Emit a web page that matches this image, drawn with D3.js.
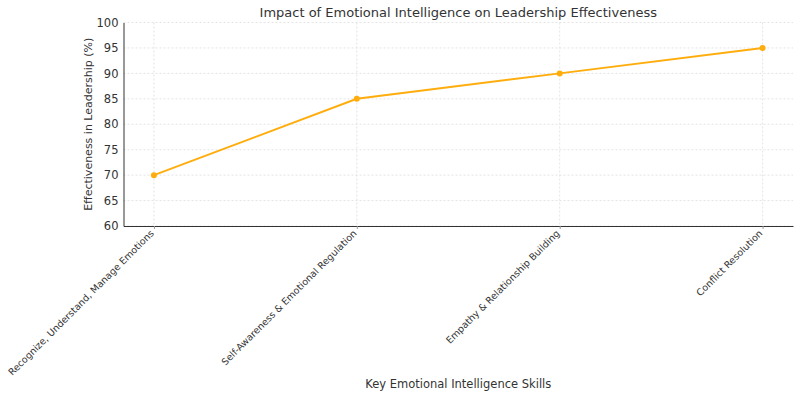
<!DOCTYPE html>
<html>
<head>
<meta charset="utf-8">
<script src="https://cdn.jsdelivr.net/npm/d3@7"></script>
<style>
  body { margin: 0; background: #fff; }
  svg text { font-family: "DejaVu Sans", sans-serif; fill: #333; }
</style>
</head>
<body>
<svg id="chart" width="800" height="398"></svg>
<script>
const skills = [
  'Recognize, Understand, Manage Emotions',
  'Self-Awareness & Emotional Regulation',
  'Empathy & Relationship Building',
  'Conflict Resolution'
];
const effectiveness = [70, 85, 90, 95];
const yTicks = [60, 65, 70, 75, 80, 85, 90, 95, 100];

const width = 800, height = 398;
const margin = { top: 22.5, right: 7, bottom: 172, left: 123.5 };
const svg = d3.select('#chart');

const x = d3.scaleLinear()
  .domain([-0.15, skills.length - 1 + 0.15])
  .range([margin.left, width - margin.right]);
const y = d3.scaleLinear()
  .domain([60, 100])
  .range([height - margin.bottom, margin.top]);

// grid
const grid = svg.append('g');
grid.selectAll('.hg').data(yTicks).enter().append('line')
  .attr('x1', margin.left).attr('x2', width - margin.right)
  .attr('y1', d => y(d)).attr('y2', d => y(d))
  .attr('stroke', '#ddd').attr('stroke-width', 0.8).attr('stroke-dasharray', '2,2');
grid.selectAll('.vg').data(skills).enter().append('line')
  .attr('x1', (d, i) => x(i)).attr('x2', (d, i) => x(i))
  .attr('y1', margin.top).attr('y2', height - margin.bottom)
  .attr('stroke', '#ddd').attr('stroke-width', 0.8).attr('stroke-dasharray', '2,2');

// y axis
const yAxis = svg.append('g')
  .attr('transform', 'translate(' + margin.left + ',0)')
  .call(d3.axisLeft(y).tickValues(yTicks).tickSize(0).tickPadding(5));
yAxis.select('.domain').attr('stroke', '#333').attr('stroke-width', 1);
yAxis.selectAll('text').style('font-size', '11.5px').attr('fill', '#333');

// x axis
const xAxis = svg.append('g')
  .attr('transform', 'translate(0,' + (height - margin.bottom) + ')')
  .call(d3.axisBottom(x).tickValues(d3.range(skills.length)).tickFormat(i => skills[i]).tickSize(3).tickSizeOuter(0));
xAxis.select('.domain').attr('stroke', '#333').attr('stroke-width', 1);
xAxis.selectAll('.tick line').attr('stroke', '#999');
xAxis.selectAll('text')
  .style('font-size', '9.5px')
  .attr('fill', '#333')
  .attr('text-anchor', 'end')
  .attr('dy', null)
  .attr('y', 0)
  .attr('transform', 'translate(0,8) rotate(-45)');

// line + markers
const line = d3.line().x((d, i) => x(i)).y(d => y(d));
svg.append('path')
  .datum(effectiveness)
  .attr('d', line)
  .attr('fill', 'none')
  .attr('stroke', '#FFAD0D')
  .attr('stroke-width', 2);
svg.selectAll('.dot').data(effectiveness).enter().append('circle')
  .attr('cx', (d, i) => x(i)).attr('cy', d => y(d))
  .attr('r', 3).attr('fill', '#FFAD0D');

// titles
svg.append('text')
  .attr('x', (margin.left + width - margin.right) / 2).attr('y', 17)
  .attr('text-anchor', 'middle').style('font-size', '13px')
  .text('Impact of Emotional Intelligence on Leadership Effectiveness');
svg.append('text')
  .attr('transform', 'translate(92,' + ((margin.top + height - margin.bottom) / 2) + ') rotate(-90)')
  .attr('text-anchor', 'middle').style('font-size', '11px')
  .text('Effectiveness in Leadership (%)');
svg.append('text')
  .attr('x', (margin.left + width - margin.right) / 2).attr('y', 388)
  .attr('text-anchor', 'middle').style('font-size', '11.5px')
  .text('Key Emotional Intelligence Skills');
</script>
</body>
</html>
